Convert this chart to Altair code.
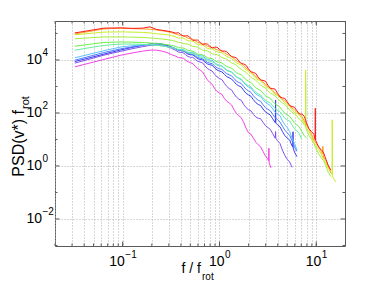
import altair as alt
import pandas as pd

# ---------------- data ----------------
freq = [0.032, 0.064, 0.096, 0.128, 0.16, 0.192, 0.224, 0.256, 0.288, 0.32,
        0.355, 0.398, 0.447, 0.501, 0.562, 0.631, 0.708, 0.794, 0.891, 1.0,
        1.122, 1.259, 1.413, 1.585, 1.778, 1.995, 2.239, 2.512, 2.818, 3.162,
        3.548, 3.981, 4.467, 5.012, 5.623, 6.310, 7.079, 7.943, 8.913, 10.0,
        11.22, 12.59, 14.13, 15.85]
# in-between frequencies (from 0.376 upward) carrying the small ripples
freq_mid = [0.376, 0.422, 0.473, 0.531, 0.596, 0.668, 0.750, 0.841, 0.944, 1.059,
            1.189, 1.334, 1.496, 1.679, 1.884, 2.113, 2.371, 2.661, 2.985, 3.350,
            3.758, 4.217, 4.732, 5.309, 5.957, 6.683, 7.499, 8.414, 9.441, 10.59,
            11.89, 13.34, 14.96]

series_names = ["s01", "s02", "s03", "s04", "s05", "s06",
                "s07", "s08", "s09", "s10", "s11"]
series_colors = ["#f542e6", "#8350f0", "#3c3cf0", "#4f7bff", "#5cc0ff", "#66f0a0",
                 "#6cf04c", "#a6f03c", "#c8ee2a", "#ffa020", "#ff1a1a"]

# log10 PSD values on freq
magenta_log = [3.74, 4.02, 4.18, 4.27, 4.33, 4.37, 4.37, 4.33, 4.28, 4.20,
               4.14, 4.08, 4.00, 3.90, 3.76, 3.62, 3.40, 3.15, 2.92, 2.75,
               2.55, 2.38, 2.12, 1.90, 1.65, 1.25, 1.05, 0.80, 0.55, 0.25]
purple_log = [3.88, 4.18, 4.33, 4.43, 4.50, 4.55, 4.57, 4.55, 4.50, 4.44,
              4.36, 4.28, 4.20, 4.10, 4.02, 3.92, 3.78, 3.62, 3.46, 3.30,
              3.12, 2.92, 2.72, 2.52, 2.32, 2.12, 1.95, 1.80, 1.65, 1.45,
              1.22, 0.95, 0.60, 0.25, -0.05]
darkblue_log = [3.94, 4.22, 4.38, 4.48, 4.55, 4.60, 4.63, 4.60, 4.55, 4.49,
                4.42, 4.35, 4.28, 4.20, 4.12, 4.02, 3.92, 3.82, 3.70, 3.58,
                3.46, 3.33, 3.18, 3.02, 2.85, 2.68, 2.50, 2.32, 2.15, 1.98,
                1.78, 1.55, 1.30, 1.05, 0.75, 0.35]
midblue_log = [3.99, 4.28, 4.42, 4.50, 4.56, 4.60, 4.60, 4.57, 4.52, 4.47,
               4.42, 4.36, 4.30, 4.23, 4.15, 4.07, 3.98, 3.88, 3.78, 3.67,
               3.56, 3.44, 3.30, 3.15, 3.00, 2.83, 2.65, 2.48, 2.31, 2.14,
               1.95, 1.75, 1.50, 1.25, 0.95, 0.55]
lightblue_log = [4.08, 4.35, 4.49, 4.54, 4.57, 4.59, 4.56, 4.53, 4.50, 4.47,
                 4.43, 4.39, 4.34, 4.28, 4.23, 4.16, 4.08, 4.00, 3.90, 3.80,
                 3.70, 3.58, 3.45, 3.30, 3.15, 2.98, 2.82, 2.66, 2.50, 2.34,
                 2.15, 1.96, 1.70, 1.45, 1.05, 0.60]
mint_log = [4.37, 4.55, 4.60, 4.60, 4.59, 4.57, 4.55, 4.53, 4.50, 4.47,
            4.43, 4.38, 4.32, 4.26, 4.19, 4.11, 4.03, 3.95, 3.87, 3.78,
            3.68, 3.57, 3.45, 3.32, 3.18, 3.03, 2.88, 2.72, 2.57, 2.42,
            2.27, 2.10, 1.92, 1.74, 1.55, 1.32, 1.00]
green_log = [4.52, 4.66, 4.68, 4.67, 4.66, 4.64, 4.62, 4.60, 4.58, 4.55,
             4.51, 4.46, 4.41, 4.35, 4.28, 4.21, 4.14, 4.06, 3.99, 3.91,
             3.82, 3.72, 3.61, 3.48, 3.35, 3.20, 3.05, 2.90, 2.74, 2.60,
             2.44, 2.28, 2.10, 1.92, 1.75, 1.55, 1.30, 1.05]
lightgreen_log = [4.80, 4.87, 4.87, 4.86, 4.85, 4.83, 4.81, 4.79, 4.77, 4.74,
                  4.70, 4.66, 4.61, 4.56, 4.50, 4.43, 4.36, 4.29, 4.22, 4.15,
                  4.06, 3.96, 3.85, 3.72, 3.59, 3.44, 3.29, 3.14, 3.00, 2.84,
                  2.70, 2.55, 2.38, 2.22, 2.03, 1.88, 1.70, 1.35, 1.00, 0.65,
                  0.32, 0.00, -0.40]
yellowgreen_log = [4.95, 5.05, 5.06, 5.05, 5.04, 5.02, 4.99, 4.97, 4.95, 4.92,
                   4.87, 4.83, 4.78, 4.72, 4.65, 4.57, 4.50, 4.42, 4.36, 4.29,
                   4.20, 4.10, 3.98, 3.85, 3.72, 3.56, 3.41, 3.25, 3.12, 2.95,
                   2.80, 2.65, 2.48, 2.32, 2.12, 1.97, 1.80, 1.45, 1.10, 0.75,
                   0.45, 0.10, -0.25, -0.60]
orange_log = [4.98, 5.17, 5.20, 5.18, 5.17, 5.16, 5.13, 5.10, 5.07, 5.03,
              4.98, 4.93, 4.87, 4.80, 4.72, 4.64, 4.57, 4.49, 4.43, 4.36,
              4.28, 4.18, 4.05, 3.92, 3.79, 3.62, 3.47, 3.30, 3.17, 3.00,
              2.85, 2.70, 2.52, 2.38, 2.18, 2.02, 1.88, 1.55, 1.20, 0.85,
              0.55, 0.20, -0.25]
red_log = [5.02, 5.20, 5.21, 5.19, 5.20, 5.25, 5.15, 5.12, 5.09, 5.06,
           5.01, 4.96, 4.91, 4.83, 4.75, 4.66, 4.61, 4.52, 4.48, 4.40,
           4.34, 4.22, 4.11, 3.96, 3.85, 3.66, 3.53, 3.35, 3.23, 3.05,
           2.92, 2.74, 2.57, 2.42, 2.24, 2.08, 1.96, 1.62, 1.30, 0.92,
           0.62, 0.25, -0.15]

# log10 PSD values on freq_mid (ripples)
magenta_mid = [4.09, 4.07, 3.93, 3.86, 3.67, 3.55, 3.25, 3.08, 2.81, 2.70,
               2.44, 2.30, 1.98, 1.82, 1.42, 1.20, 0.90, 0.72, 0.38]
purple_mid = [4.30, 4.27, 4.13, 4.10, 3.95, 3.89, 3.68, 3.58, 3.36, 3.26,
              3.00, 2.87, 2.60, 2.48, 2.20, 2.08, 1.85, 1.78, 1.52, 1.38,
              1.05, 0.85, 0.40, 0.15]
darkblue_mid = [4.36, 4.34, 4.22, 4.19, 4.05, 4.00, 3.85, 3.80, 3.62, 3.55,
                3.37, 3.28, 3.08, 2.98, 2.74, 2.63, 2.39, 2.28, 2.04, 1.92,
                1.64, 1.48, 1.15, 0.98, 0.52]
midblue_mid = [4.37, 4.35, 4.24, 4.21, 4.09, 4.05, 3.91, 3.86, 3.70, 3.64,
               3.48, 3.40, 3.20, 3.11, 2.89, 2.78, 2.55, 2.44, 2.20, 2.08,
               1.82, 1.66, 1.35, 1.15, 0.72]
lightblue_mid = [4.38, 4.39, 4.29, 4.28, 4.17, 4.15, 4.02, 3.99, 3.83, 3.78,
                 3.62, 3.55, 3.36, 3.26, 3.05, 2.94, 2.72, 2.62, 2.40, 2.28,
                 2.03, 1.90, 1.55, 1.30, 0.85]
mint_mid = [4.39, 4.37, 4.27, 4.25, 4.13, 4.10, 3.97, 3.94, 3.80, 3.76,
            3.60, 3.54, 3.36, 3.28, 3.08, 2.99, 2.78, 2.68, 2.47, 2.38,
            2.16, 2.05, 1.80, 1.70, 1.40, 1.22]
green_mid = [4.46, 4.45, 4.36, 4.33, 4.22, 4.19, 4.08, 4.05, 3.93, 3.89,
             3.75, 3.69, 3.52, 3.44, 3.25, 3.15, 2.95, 2.85, 2.65, 2.55,
             2.34, 2.22, 1.99, 1.87, 1.62, 1.47, 1.15]
lightgreen_mid = [4.66, 4.61, 4.60, 4.51, 4.48, 4.37, 4.34, 4.23, 4.20, 4.09,
                  4.03, 3.89, 3.80, 3.64, 3.53, 3.35, 3.24, 3.05, 2.94, 2.75,
                  2.64, 2.45, 2.32, 2.10, 1.98, 1.76, 1.55, 1.15, 0.85, 0.45,
                  0.20, -0.25]
yellowgreen_mid = [4.82, 4.83, 4.72, 4.71, 4.58, 4.56, 4.43, 4.42, 4.30, 4.27,
                   4.13, 4.06, 3.89, 3.81, 3.62, 3.51, 3.31, 3.21, 3.01, 2.90,
                   2.70, 2.59, 2.38, 2.25, 2.02, 1.92, 1.60, 1.30, 0.90, 0.62,
                   0.25, -0.10, -0.45]
orange_mid = [4.94, 4.92, 4.82, 4.78, 4.66, 4.62, 4.52, 4.47, 4.38, 4.34,
              4.21, 4.14, 3.97, 3.88, 3.69, 3.57, 3.37, 3.27, 3.07, 2.95,
              2.75, 2.64, 2.46, 2.30, 2.12, 1.98, 1.70, 1.40, 0.98, 0.75,
              0.33, 0.00]
red_mid = [5.03, 4.90, 4.91, 4.74, 4.75, 4.58, 4.60, 4.45, 4.48, 4.33,
           4.31, 4.12, 4.08, 3.86, 3.80, 3.55, 3.49, 3.24, 3.20, 2.93,
           2.90, 2.60, 2.55, 2.28, 2.22, 1.96, 1.88, 1.40, 1.20, 0.70,
           0.50, 0.00]

# narrow spectral peaks (freq, log10 PSD)
magenta_peaks = [(3.22, 0.20), (3.24, 0.67), (3.26, 0.12), (3.40, -0.07)]
purple_peaks = [(3.78, 1.08), (3.80, 1.30), (3.82, 1.04)]
darkblue_peaks = [(3.78, 1.66), (3.80, 2.49), (3.82, 1.62),
                  (5.73, 0.72), (5.75, 1.29), (5.77, 0.68)]
lightgreen_peaks = [(7.74, 1.50), (7.76, 3.10), (7.78, 1.46)]
yellowgreen_peaks = [(7.74, 1.60), (7.76, 3.62), (7.78, 1.56),
                     (14.60, -0.32), (14.62, 1.74), (14.66, -0.36)]
orange_peaks = [(11.6, 0.45), (11.7, 0.75), (11.8, 0.42)]
red_peaks = [(9.72, 1.00), (9.77, 2.18), (9.82, 0.98)]

series_logs = [magenta_log, purple_log, darkblue_log, midblue_log, lightblue_log,
               mint_log, green_log, lightgreen_log, yellowgreen_log, orange_log, red_log]
series_mids = [magenta_mid, purple_mid, darkblue_mid, midblue_mid, lightblue_mid,
               mint_mid, green_mid, lightgreen_mid, yellowgreen_mid, orange_mid, red_mid]
series_peaks = [magenta_peaks, purple_peaks, darkblue_peaks, [], [], [], [],
                lightgreen_peaks, yellowgreen_peaks, orange_peaks, red_peaks]

x_grid = [0.02, 0.03, 0.04, 0.05, 0.06, 0.07, 0.08, 0.09,
          0.1, 0.2, 0.3, 0.4, 0.5, 0.6, 0.7, 0.8, 0.9,
          1, 2, 3, 4, 5, 6, 7, 8, 9, 10, 20]
x_major = [0.1, 1, 10]
y_grid = [1e-2, 1, 1e2, 1e4]
y_minor = [1e-3, 1e-1, 1e1, 1e3, 1e5]
x_tick_vals = [0.1, 1, 10]
x_tick_exps = ["\u22121", "0", "1"]
y_tick_vals = [1e-2, 1, 1e2, 1e4]
y_tick_exps = ["\u22122", "0", "2", "4"]

# ---------------- build table ----------------
rows = []
for name, logs, mids, peaks in zip(series_names, series_logs, series_mids, series_peaks):
    pts = [(freq[i], v) for i, v in enumerate(logs)]
    pts += [(freq_mid[i], v) for i, v in enumerate(mids)]
    pts += list(peaks)
    pts.sort(key=lambda p: p[0])
    for j, (f, v) in enumerate(pts):
        rows.append({"series": name, "f": f, "psd": 10 ** v, "o": j})
df = pd.DataFrame(rows)

W, H = 290, 225
FONT = "Liberation Sans"
FRAME = "#5a5a5a"

xscale = alt.Scale(type="log", domain=[0.02, 19.8], nice=False)
yscale = alt.Scale(type="log", domain=[10 ** -3.02, 10 ** 5.47], nice=False)
grid_kw = dict(labels=False, ticks=False, domain=False, grid=True,
               gridDash=[1, 2], gridColor="#b0b0b0", gridWidth=1, title=None)
X = alt.X("f:Q", scale=xscale, axis=alt.Axis(values=x_grid, **grid_kw))
Y = alt.Y("psd:Q", scale=yscale, axis=alt.Axis(values=y_grid, **grid_kw))

layers = []

# inward tick marks on all four sides
for vals, ln in ((x_grid, 2.5), (x_major, 4.5)):
    d = pd.DataFrame({"f": vals})
    layers.append(alt.Chart(d).mark_rule(color=FRAME, strokeWidth=1)
                  .encode(x=X, y=alt.value(H), y2=alt.value(H - ln)))
    layers.append(alt.Chart(d).mark_rule(color=FRAME, strokeWidth=1)
                  .encode(x=X, y=alt.value(0), y2=alt.value(ln)))
for vals, ln in ((y_minor, 2.5), (y_grid, 4.5)):
    d = pd.DataFrame({"psd": vals})
    layers.append(alt.Chart(d).mark_rule(color=FRAME, strokeWidth=1)
                  .encode(y=Y, x=alt.value(0), x2=alt.value(ln)))
    layers.append(alt.Chart(d).mark_rule(color=FRAME, strokeWidth=1)
                  .encode(y=Y, x=alt.value(W), x2=alt.value(W - ln)))

lines = alt.Chart(df).mark_line(strokeWidth=1, clip=True).encode(
    x=X, y=Y,
    color=alt.Color("series:N", scale=alt.Scale(domain=series_names, range=series_colors),
                    legend=None),
    detail="series:N",
    order="o:Q",
)
layers.append(lines)

w10 = 15.6
for val, e in zip(x_tick_vals, x_tick_exps):
    wexp = 5.6 * len(e)
    shift = (w10 - wexp) / 2
    d = pd.DataFrame({"f": [val]})
    layers.append(alt.Chart(d).mark_text(text="10", align="right", baseline="alphabetic",
                                         font=FONT, fontSize=14, color="black", dx=shift)
                  .encode(x=X, y=alt.value(H + 20)))
    layers.append(alt.Chart(d).mark_text(text=e, align="left", baseline="alphabetic",
                                         font=FONT, fontSize=10, color="black", dx=shift + 0.5)
                  .encode(x=X, y=alt.value(H + 12)))

for val, e in zip(y_tick_vals, y_tick_exps):
    d = pd.DataFrame({"psd": [val]})
    layers.append(alt.Chart(d).mark_text(text="10", align="right", baseline="middle",
                                         font=FONT, fontSize=14, color="black")
                  .encode(x=alt.value(-13), y=Y))
    layers.append(alt.Chart(d).mark_text(text=e, align="left", baseline="middle",
                                         font=FONT, fontSize=10, color="black", dy=-6.5)
                  .encode(x=alt.value(-12.5), y=Y))

# axis titles
layers.append(alt.Chart(pd.DataFrame({"t": ["f / f"]})).mark_text(
    align="right", baseline="alphabetic", font=FONT, fontSize=14, color="black")
    .encode(text="t:N", x=alt.value(146), y=alt.value(H + 27)))
layers.append(alt.Chart(pd.DataFrame({"t": ["rot"]})).mark_text(
    align="left", baseline="alphabetic", font=FONT, fontSize=10, color="black")
    .encode(text="t:N", x=alt.value(147), y=alt.value(H + 34)))
layers.append(alt.Chart(pd.DataFrame({"t": ["PSD(v*) f"]})).mark_text(
    align="right", baseline="alphabetic", angle=270, font=FONT, fontSize=16, color="black")
    .encode(text="t:N", x=alt.value(-31), y=alt.value(89)))
layers.append(alt.Chart(pd.DataFrame({"t": ["rot"]})).mark_text(
    align="left", baseline="alphabetic", angle=270, font=FONT, fontSize=11, color="black")
    .encode(text="t:N", x=alt.value(-26), y=alt.value(88)))

chart = alt.layer(*layers).properties(
    width=W, height=H,
    autosize=alt.AutoSizeParams(type="none"),
    padding={"left": 47, "top": 13, "right": 20, "bottom": 38},
    background="white",
).configure_view(stroke=FRAME, strokeWidth=1)

chart.save("out.html", embed_options={"renderer": "svg", "actions": False})
